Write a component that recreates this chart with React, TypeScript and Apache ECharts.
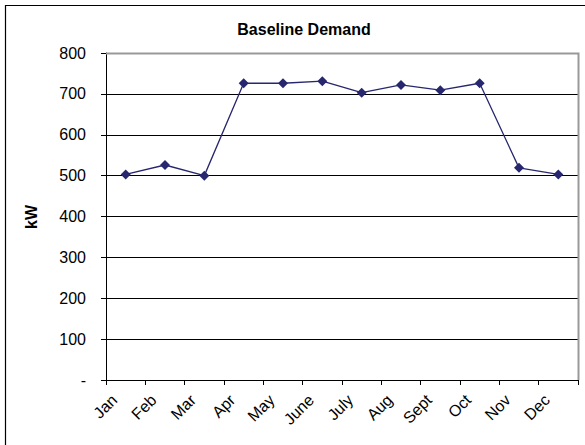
import React, { useEffect, useRef } from "react";
import * as echarts from "echarts";

const months = ["Jan", "Feb", "Mar", "Apr", "May", "June", "July", "Aug", "Sept", "Oct", "Nov", "Dec"];
const demandKW = [503, 526, 500, 726, 726, 731, 703, 722, 709, 726, 519, 503];
const titleText = "Baseline Demand";
const yAxisName = "kW";

export default function App() {
  const ref = useRef<HTMLDivElement>(null);
  useEffect(() => {
    if (!ref.current) return;
    const chart = echarts.init(ref.current, null, { renderer: "svg" });
    const font = "'Liberation Sans', Arial, sans-serif";
    chart.setOption({
      animation: false,
      backgroundColor: "#ffffff",
      title: {
        text: titleText,
        left: 299,
        top: 16,
        textAlign: "center",
        textStyle: { fontFamily: font, fontSize: 16, fontWeight: "bold", color: "#000" },
      },
      graphic: [
        {
          type: "polyline",
          shape: { points: [[5.5, 450], [5.5, 5.5], [600, 5.5]] },
          style: { stroke: "#000", lineWidth: 1.2, fill: "none" },
          silent: true,
        },
        {
          type: "polyline",
          shape: { points: [[106, 53.5], [578.5, 53.5], [578.5, 380]] },
          style: { stroke: "#999", lineWidth: 2, fill: "none" },
          silent: true,
          z: 1,
        },
        {
          type: "text",
          x: 31,
          y: 217,
          rotation: Math.PI / 2,
          style: {
            text: yAxisName,
            fontFamily: font,
            fontSize: 16,
            fontWeight: "bold",
            fill: "#000",
            align: "center",
            verticalAlign: "middle",
          },
        },
      ],
      grid: { left: 106, top: 53, right: 7, bottom: 65, containLabel: false },
      xAxis: {
        type: "category",
        data: months,
        boundaryGap: true,
        axisLine: { lineStyle: { color: "#000", width: 1 } },
        axisTick: { show: true, alignWithLabel: false, length: 5, lineStyle: { color: "#000" } },
        axisLabel: {
          rotate: 45,
          margin: 6,
          padding: [0, 16, 0, 0],
          fontFamily: font,
          fontSize: 16,
          color: "#000",
        },
        splitLine: { show: false },
      },
      yAxis: {
        type: "value",
        min: 0,
        max: 800,
        interval: 100,
        axisLine: { show: true, lineStyle: { color: "#000", width: 1 } },
        axisTick: { show: true, length: 5, lineStyle: { color: "#000" } },
        axisLabel: {
          margin: 20,
          fontFamily: font,
          fontSize: 16,
          color: "#000",
          formatter: (v: number) => (v === 0 ? "-" : String(v)),
        },
        splitLine: { show: true, lineStyle: { color: "#000", width: 1 } },
      },
      series: [
        {
          type: "line",
          data: demandKW,
          symbol: "diamond",
          symbolSize: 10,
          lineStyle: { color: "#27276F", width: 1.3 },
          itemStyle: { color: "#27276F" },
          z: 3,
        },
      ],
    });
    return () => chart.dispose();
  }, []);
  return <div ref={ref} style={{ position: "fixed", left: 0, top: 0, width: 585, height: 445 }} />;
}
